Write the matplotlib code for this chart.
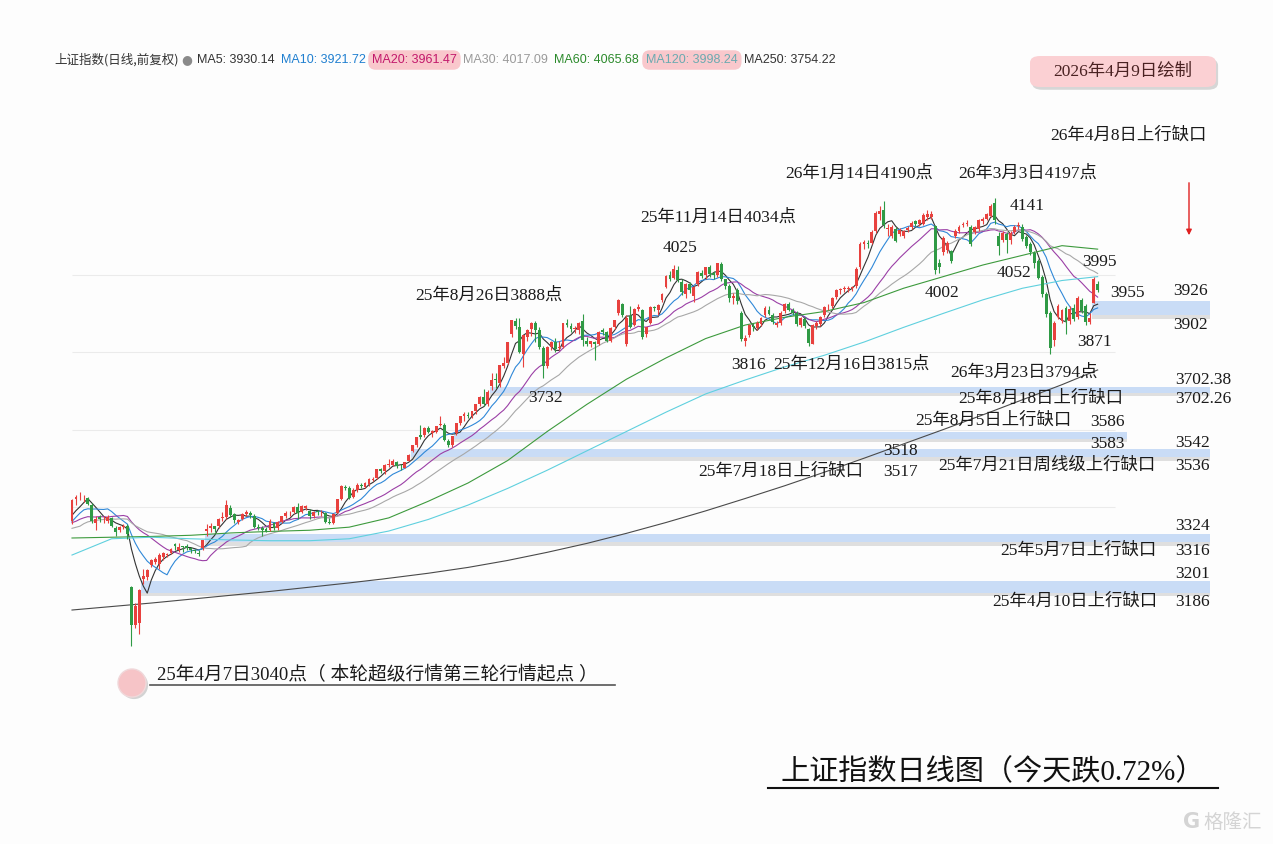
import numpy as np
import pandas as pd
import matplotlib
matplotlib.use('Agg')
import matplotlib.pyplot as plt
from matplotlib.patches import Rectangle, FancyBboxPatch, Ellipse
import matplotlib.patheffects as pe


W, H = 1273, 844

# daily candles, 2025-03-14 .. 2026-04-09
opens = [
    3363, 3422, 3428, 3425, 3424, 3404, 3360, 3373, 3368, 3365, 3371, 3345, 3340, 3348, 3352,
    # Apr
    3193, 3095, 3100, 3215, 3220, 3250, 3258, 3252, 3270, 3277, 3281, 3305, 3290, 3298, 3299, 3294, 3288, 3281,
    # May
    3293, 3337, 3345, 3350, 3350, 3372, 3373, 3398, 3381, 3362, 3370, 3382, 3385, 3378, 3349, 3345, 3342, 3340, 3360,
    # Jun
    3345, 3362, 3376, 3384, 3387, 3400, 3386, 3398, 3390, 3376, 3389, 3386, 3385, 3362, 3358, 3385, 3420, 3452, 3450, 3425,
    # Jul
    3445, 3457, 3452, 3460, 3470, 3474, 3497, 3492, 3509, 3508, 3517, 3504, 3502, 3520, 3545, 3560, 3585, 3585, 3604,
    3590, 3595, 3612, 3612,
    # Aug
    3570, 3560, 3590, 3616, 3636, 3637, 3636, 3648, 3666, 3684, 3665, 3712, 3730, 3720, 3765, 3773, 3848, 3880, 3866,
    3795, 3840,
    # Sep
    3860, 3876, 3858, 3810, 3765, 3814, 3826, 3810, 3812, 3876, 3868, 3860, 3858, 3880, 3830, 3820, 3826, 3822, 3856,
    3852, 3828, 3865,
    # Oct
    3900, 3925, 3820, 3893, 3870, 3912, 3910, 3846, 3875, 3915, 3910, 3935, 3968, 3998, 3992, 4012, 3982,
    # Nov
    3950, 3975, 3945, 3975, 4005, 3998, 4020, 4005, 4000, 4028, 3988, 3970, 3940, 3960, 3900, 3830, 3845, 3868, 3862, 3872,
    # Dec
    3895, 3910, 3895, 3870, 3875, 3905, 3925, 3908, 3900, 3870, 3885, 3860, 3822, 3868, 3872, 3895, 3918, 3920, 3942,
    3960, 3962, 3963, 3965,
    # 2026 Jan
    3970, 4020, 4080, 4082, 4083, 4112, 4158, 4168, 4118, 4100, 4118, 4105, 4100, 4115, 4122, 4138, 4130, 4130, 4148, 4150,
    # Feb
    4125, 4030, 4058, 4065, 4060, 4100, 4112, 4128, 4130, 4122, 4110, 4118, 4138, 4145,
    # Mar
    4152, 4185, 4100, 4090, 4105, 4090, 4110, 4125, 4122, 4098, 4078, 4055, 4035, 3995, 3950, 3900, 3832, 3890, 3880,
    3915, 3880, 3915,
    # Apr
    3890, 3935, 3920, 3878, 3926, 3975,
]
highs = [
    3420, 3432, 3440, 3432, 3426, 3410, 3376, 3380, 3378, 3380, 3374, 3351, 3352, 3356, 3356,
    3195, 3152, 3188, 3240, 3240, 3266, 3270, 3280, 3283, 3282, 3294, 3308, 3306, 3300, 3304, 3296, 3291, 3288,
    3316, 3356, 3358, 3352, 3372, 3386, 3418, 3405, 3384, 3370, 3384, 3392, 3390, 3382, 3356, 3350, 3348, 3368, 3362,
    3364, 3378, 3390, 3390, 3402, 3410, 3404, 3406, 3395, 3390, 3393, 3392, 3388, 3372, 3384, 3422, 3458, 3456, 3455, 3448,
    3462, 3462, 3464, 3474, 3477, 3498, 3500, 3510, 3524, 3524, 3520, 3510, 3517, 3536, 3560, 3582, 3613, 3606, 3608,
    3598, 3610, 3636, 3616,
    3575, 3583, 3618, 3635, 3645, 3645, 3648, 3666, 3688, 3704, 3702.26, 3746, 3746, 3767, 3788, 3826, 3884, 3888, 3887,
    3845, 3860,
    3878, 3880, 3866, 3816, 3816, 3828, 3836, 3828, 3876, 3885, 3875, 3868, 3877, 3899, 3838, 3830, 3830, 3855, 3862,
    3854, 3865, 3884,
    3936, 3928, 3895, 3920, 3915, 3924, 3912, 3866, 3918, 3920, 3924, 3952, 3999, 4010, 4025, 4022, 3990,
    3978, 3980, 3972, 4010, 4012, 4020, 4025, 4010, 4030, 4034, 3990, 3975, 3952, 3965, 3905, 3845, 3872, 3875, 3880, 3892,
    3918, 3918, 3900, 3880, 3905, 3928, 3930, 3915, 3905, 3892, 3890, 3862, 3872, 3880, 3893, 3920, 3925, 3942, 3962,
    3966, 3970, 3970, 3972,
    4020, 4085, 4090, 4090, 4115, 4165, 4178, 4190, 4130, 4128, 4122, 4120, 4115, 4125, 4138, 4142, 4145, 4160, 4168, 4165,
    4128, 4040, 4100, 4088, 4064, 4118, 4128, 4135, 4140, 4128, 4126, 4145, 4148, 4160,
    4182, 4197, 4110, 4112, 4110, 4112, 4128, 4135, 4130, 4102, 4085, 4060, 4040, 4000, 3955, 3905, 3880, 3925, 3912,
    3920, 3918, 3925,
    3945, 3940, 3925, 3902, 3995, 3985,
]
lows = [
    3357, 3405, 3418, 3414, 3405, 3360, 3340, 3362, 3360, 3358, 3348, 3325, 3336, 3343, 3318,
    3040, 3088, 3072, 3201, 3212, 3245, 3253, 3240, 3264, 3270, 3278, 3288, 3285, 3285, 3290, 3280, 3281, 3274,
    3290, 3324, 3335, 3335, 3345, 3365, 3370, 3375, 3358, 3355, 3366, 3378, 3372, 3346, 3340, 3325, 3335, 3338, 3340,
    3340, 3360, 3372, 3378, 3384, 3370, 3384, 3392, 3370, 3372, 3380, 3378, 3358, 3356, 3355, 3384, 3418, 3444, 3420, 3424,
    3440, 3448, 3448, 3455, 3466, 3472, 3488, 3485, 3504, 3506, 3500, 3495, 3500, 3518, 3542, 3555, 3575, 3580, 3590,
    3580, 3590, 3610, 3570,
    3555, 3555, 3586, 3612, 3623, 3630, 3630, 3640, 3660, 3660, 3660, 3702.38, 3708, 3710, 3760, 3770, 3840, 3859, 3798,
    3761, 3830,
    3842, 3825, 3809, 3733, 3760, 3805, 3800, 3805, 3810, 3865, 3852, 3850, 3848, 3815, 3815, 3812, 3780, 3818, 3845,
    3826, 3826, 3860,
    3895, 3890, 3815, 3862, 3868, 3905, 3835, 3840, 3873, 3905, 3895, 3930, 3965, 3985, 3990, 3981, 3948,
    3940, 3952, 3930, 3970, 3992, 3990, 3995, 3990, 3995, 3985, 3962, 3930, 3925, 3925, 3830, 3816, 3840, 3855, 3858, 3868,
    3892, 3895, 3872, 3865, 3870, 3900, 3905, 3895, 3868, 3865, 3862, 3815, 3820, 3860, 3868, 3892, 3910, 3915, 3938,
    3950, 3955, 3955, 3958,
    3965, 4015, 4066, 4070, 4080, 4108, 4140, 4120, 4100, 4095, 4085, 4100, 4095, 4110, 4118, 4125, 4126, 4128, 4140, 4145,
    4002, 4005, 4050, 4055, 4030, 4095, 4108, 4122, 4126, 4075, 4105, 4112, 4132, 4140,
    4148, 4130, 4052, 4085, 4055, 4080, 4105, 4118, 4088, 4070, 4050, 4018, 3988, 3942, 3890, 3794, 3815, 3885, 3876,
    3848, 3872, 3880,
    3885, 3900, 3871, 3872, 3926, 3955,
]
closes = [
    3419, 3426, 3429, 3426, 3408, 3364, 3370, 3369, 3368, 3373, 3351, 3335, 3348, 3350, 3330,
    3096, 3145, 3186, 3223, 3238, 3262, 3267, 3276, 3280, 3277, 3291, 3300, 3296, 3297, 3295, 3288, 3286, 3279,
    3316, 3343, 3352, 3342, 3370, 3374, 3404, 3380, 3367, 3367, 3381, 3387, 3380, 3348, 3346, 3340, 3339, 3363, 3347,
    3361, 3376, 3384, 3385, 3399, 3384, 3402, 3403, 3377, 3388, 3387, 3388, 3362, 3359, 3381, 3420, 3455, 3448, 3424, 3444,
    3457, 3454, 3461, 3473, 3473, 3497, 3493, 3509, 3510, 3519, 3505, 3503, 3516, 3534, 3559, 3582, 3582, 3605, 3593,
    3597, 3609, 3615, 3573,
    3560, 3583, 3617, 3634, 3639, 3635, 3647, 3665, 3683, 3666, 3697, 3728, 3727, 3766, 3771, 3825, 3883, 3868, 3800,
    3843, 3858,
    3876, 3858, 3813, 3765, 3812, 3826, 3807, 3812, 3875, 3870, 3860, 3861, 3876, 3831, 3820, 3828, 3822, 3853, 3853,
    3828, 3862, 3883,
    3934, 3897, 3889, 3865, 3912, 3916, 3839, 3864, 3917, 3914, 3922, 3950, 3996, 3988, 4016, 3987, 3955,
    3976, 3960, 3969, 4007, 3997, 4019, 4002, 4000, 4029, 3990, 3972, 3939, 3946, 3931, 3835, 3836, 3870, 3864, 3875, 3889,
    3914, 3898, 3878, 3875, 3902, 3924, 3910, 3900, 3873, 3889, 3867, 3824, 3870, 3876, 3890, 3917, 3920, 3940, 3960,
    3963, 3965, 3965, 3969,
    4015, 4078, 4084, 4080, 4110, 4160, 4165, 4128, 4120, 4124, 4088, 4116, 4112, 4120, 4134, 4130, 4140, 4155, 4158, 4156,
    4012, 4020, 4095, 4082, 4036, 4112, 4124, 4132, 4134, 4080, 4122, 4142, 4145, 4158,
    4178, 4141, 4075, 4108, 4090, 4108, 4122, 4128, 4092, 4075, 4058, 4030, 3992, 3950, 3898, 3810, 3875, 3920, 3908,
    3878, 3912, 3885,
    3940, 3905, 3878, 3888, 3988, 3960,
]
# closes before the first drawn candle, only used to start the short averages
warmup_closes = [3229, 3270, 3303, 3322, 3318, 3346, 3332, 3346, 3355, 3324, 3351, 3350, 3379, 3373,
                 3346, 3380, 3388, 3320, 3316, 3324, 3341, 3381, 3372, 3366, 3379, 3371, 3358]

# long averages, every 10th candle (+ last)
long_ma_idx = [0, 10, 20, 30, 40, 50, 60, 70, 80, 90, 100, 110, 120, 130, 140, 150, 160, 170, 180, 190,
               200, 210, 220, 230, 240, 250, 259]
ma60 = [3320, 3322, 3324, 3327, 3333, 3337, 3340, 3348, 3372, 3415, 3462, 3520, 3595, 3665, 3730, 3785,
        3835, 3870, 3890, 3905, 3928, 3965, 3995, 4025, 4050, 4075, 4066]
ma120 = [3276, 3318, 3322, 3318, 3315, 3313, 3313, 3318, 3338, 3368, 3405, 3448, 3495, 3545, 3595, 3645,
         3692, 3728, 3762, 3792, 3826, 3864, 3900, 3935, 3965, 3985, 3995]
ma250 = [3134, 3143, 3152, 3162, 3172, 3182, 3193, 3204, 3216, 3229, 3244, 3262, 3283, 3306, 3332, 3360,
         3390, 3422, 3455, 3490, 3526, 3563, 3600, 3638, 3677, 3716, 3754]

# upward gaps: (candle index of the gap day, lower price, upper price, right end in px)
gap_day = [18, 34, 86, 97, 106, 258]
gap_lo = [3186, 3316, 3536, 3583, 3702.26, 3902]
gap_hi = [3201, 3324, 3542, 3586, 3702.38, 3926]
gap_end_px = [1210, 1210, 1210, 1127, 1210, 1210]

legend_items = [('MA5: 3930.14', '#333333', None), ('MA10: 3921.72', '#1f7fd0', None),
                ('MA20: 3961.47', '#c2186b', '#f9c8cc'), ('MA30: 4017.09', '#9a9a9a', None),
                ('MA60: 4065.68', '#2b8a2b', None), ('MA120: 3998.24', '#6aaab0', '#f9c8cc'),
                ('MA250: 3754.22', '#333333', None)]
legend_x = [197, 281, 372, 463, 554, 646, 744]

notes = [
    (1050, 136, '26年4月8日上行缺口'),
    (785, 174, '26年1月14日4190点'),
    (958, 174, '26年3月3日4197点'),
    (1010, 206, '4141'),
    (640, 218, '25年11月14日4034点'),
    (663, 248, '4025'),
    (1082, 262, '3995'),
    (997, 273, '4052'),
    (925, 293, '4002'),
    (1110, 293, '3955'),
    (1173, 291, '3926'),
    (415, 296, '25年8月26日3888点'),
    (1173, 325, '3902'),
    (1077, 342, '3871'),
    (731, 365, '3816'),
    (773, 365, '25年12月16日3815点'),
    (950, 373, '26年3月23日3794点'),
    (1175, 380, '3702.38'),
    (528, 398, '3732'),
    (958, 399, '25年8月18日上行缺口'),
    (1175, 399, '3702.26'),
    (915, 421, '25年8月5日上行缺口'),
    (1090, 422, '3586'),
    (883, 451, '3518'),
    (1090, 444, '3583'),
    (1175, 443, '3542'),
    (698, 472, '25年7月18日上行缺口'),
    (883, 472, '3517'),
    (938, 466, '25年7月21日周线级上行缺口'),
    (1175, 466, '3536'),
    (1175, 526, '3324'),
    (1000, 551, '25年5月7日上行缺口'),
    (1175, 551, '3316'),
    (1175, 574, '3201'),
    (992, 602, '25年4月10日上行缺口'),
    (1175, 602, '3186'),
]

SERIF = ['Liberation Serif', 'Noto Sans CJK SC']
SANS = ['Noto Sans CJK SC', 'DejaVu Sans']


def px2i(x):
    return (x - 72) / 3.96


def py2p(y):
    return 3914 - (y - 308) / 0.3872


def put(fig, x, y, s, **kw):
    kw.setdefault('va', 'center')
    return fig.text(x / W, 1 - y / H, s, **kw)


def main():
    o = np.array(opens, float)
    h = np.array(highs, float)
    l = np.array(lows, float)
    c = np.array(closes, float)
    idx = np.arange(len(c))

    fig = plt.figure(figsize=(W / 100, H / 100), dpi=100, facecolor='#fdfdfd')
    ax = fig.add_axes([0, 0, 1, 1])
    ax.set_xlim(px2i(0), px2i(W))
    ax.set_ylim(py2p(H), py2p(0))
    ax.axis('off')

    # faint price grid
    ax.hlines([3400, 3600, 3800, 4000], px2i(72), px2i(1115), color='#ebebeb', lw=0.8, zorder=0)

    # gap bands
    for d, lo, hi, end in zip(gap_day, gap_lo, gap_hi, gap_end_px):
        pad = 7
        r = Rectangle((d - 0.5, lo - pad), px2i(end) - d + 0.5, hi - lo + 2 * pad,
                      facecolor='#c9dcf6', edgecolor='none', zorder=1)
        r.set_path_effects([pe.SimplePatchShadow(offset=(0, -2.5), shadow_rgbFace='#9a9a9a', alpha=0.3),
                            pe.Normal()])
        ax.add_patch(r)

    # moving averages
    s = pd.Series(warmup_closes + closes, dtype=float)
    n0 = len(warmup_closes)
    ma_cols = {5: '#333333', 10: '#2f88d8', 20: '#9b3fa6', 30: '#a8a8a8'}
    for n, col in ma_cols.items():
        m = s.rolling(n, min_periods=1).mean().values[n0:]
        ax.plot(idx, m, color=col, lw=0.8, zorder=3)
    ax.plot(long_ma_idx, ma60, color='#3d9a3d', lw=0.8, zorder=3)
    ax.plot(long_ma_idx, ma120, color='#5fd0de', lw=0.8, zorder=3)
    ax.plot(long_ma_idx, ma250, color='#4a4a4a', lw=0.8, zorder=3)

    # candles
    up = c >= o
    colors = np.where(up, '#e8413e', '#2f9a45')
    ax.vlines(idx, l, h, color=colors, lw=0.8, zorder=4)
    body = np.maximum(np.abs(c - o), 1.5)
    ax.bar(idx, body, bottom=np.minimum(o, c), width=0.72, color=colors, zorder=5)

    # legend line at top
    put(fig, 54, 60, '上证指数(日线,前复权)', fontsize=9, color='#333333', family=SANS)
    put(fig, 187, 60, '●', fontsize=9, color='#8a8a8a', ha='center')
    for (txt, col, bg), x in zip(legend_items, legend_x):
        kw = dict(fontsize=9, color=col, family=['Liberation Sans', 'DejaVu Sans'])
        if bg:
            kw['bbox'] = dict(boxstyle='round,pad=0.3,rounding_size=0.6', fc=bg, ec='none')
        put(fig, x, 60, txt, **kw)

    # date box at top right
    box = FancyBboxPatch((1030 / W, 1 - 87 / H), 186 / W, 31 / H,
                         boxstyle='round,pad=0,rounding_size=0.008', transform=fig.transFigure,
                         fc='#fbd0d3', ec='none')
    box.set_path_effects([pe.SimplePatchShadow(offset=(1.5, -2), shadow_rgbFace='#b0b0b0', alpha=0.5),
                          pe.Normal()])
    fig.add_artist(box)
    put(fig, 1123, 72, '2026年4月9日绘制', fontsize=12.5, color='#4a2222', ha='center', family=SERIF)

    # annotations
    for x, y, txt in notes:
        put(fig, x, y, txt, fontsize=12.5, color='#1a1a1a', family=SERIF)

    # arrow for the newest gap
    ax.annotate('', xy=(1189 / W, 1 - 238 / H), xytext=(1189 / W, 1 - 180 / H),
                xycoords='figure fraction', textcoords='figure fraction',
                arrowprops=dict(arrowstyle='-|>', color='#e02020', lw=1.0, mutation_scale=8))

    # starting point note at bottom left
    dot = Ellipse((132 / W, 1 - 683 / H), 28 / W, 28 / H, transform=fig.transFigure,
                  fc='#f6c4c7', ec='#f0d8da', lw=1)
    dot.set_path_effects([pe.SimplePatchShadow(offset=(1.5, -1.5), shadow_rgbFace='#aaaaaa', alpha=0.5),
                          pe.Normal()])
    fig.add_artist(dot)
    put(fig, 157, 675, '25年4月7日3040点（ 本轮超级行情第三轮行情起点 ）', fontsize=13.5,
        color='#1a1a1a', family=SERIF)
    fig.add_artist(plt.Line2D([150 / W, 615 / W], [1 - 685 / H, 1 - 685 / H],
                              transform=fig.transFigure, color='#555555', lw=1.2))

    # title at bottom right
    put(fig, 780, 772, '上证指数日线图（今天跌0.72%）', fontsize=21, color='#111111', family=SERIF)
    fig.add_artist(plt.Line2D([768 / W, 1218 / W], [1 - 788 / H, 1 - 788 / H],
                              transform=fig.transFigure, color='#111111', lw=1.5))

    # watermark
    put(fig, 1183, 822, 'G', fontsize=15, color='#d4d4d4', fontweight='bold', family=['DejaVu Sans'])
    put(fig, 1203, 822, '格隆汇', fontsize=14, color='#d4d4d4', family=SANS)

    fig.savefig('out.png', dpi=100, facecolor=fig.get_facecolor())
    plt.close(fig)


if __name__ == '__main__':
    main()
